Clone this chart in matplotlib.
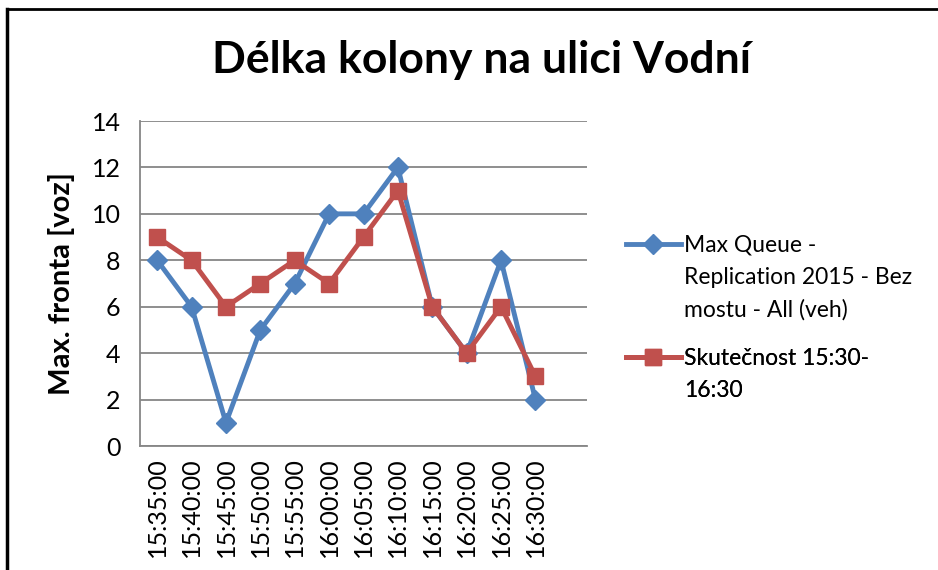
import numpy as np
import matplotlib.pyplot as plt
from matplotlib.lines import Line2D

# data
times = ['15:35:00', '15:40:00', '15:45:00', '15:50:00', '15:55:00', '16:00:00',
         '16:05:00', '16:10:00', '16:15:00', '16:20:00', '16:25:00', '16:30:00']
max_queue = [8, 6, 1, 5, 7, 10, 10, 12, 6, 4, 8, 2]
skutecnost = [9, 8, 6, 7, 8, 7, 9, 11, 6, 4, 6, 3]
label_queue = ['Max Queue -', 'Replication 2015 - Bez', 'mostu - All (veh)']
label_real = ['Skutečnost 15:30-', '16:30']

plt.rcParams['font.family'] = ['Lato', 'DejaVu Sans']

fig = plt.figure(figsize=(9.38, 5.70), dpi=100)
ax = fig.add_axes([140/938, 124/570, 447/938, 325/570])

x = np.arange(len(times))
h_queue, = ax.plot(x, max_queue, color='#4F81BD', lw=3.5, marker='D', ms=10)
h_real, = ax.plot(x, skutecnost, color='#C0504D', lw=3.5, marker='s', ms=11)

ax.set_xlim(-0.5, len(times) + 0.5)
ax.set_ylim(0, 14)
ax.set_yticks(range(0, 15, 2))
ax.set_xticks(x)
ax.set_xticklabels(times, rotation=90, fontsize=18)
ax.tick_params(axis='y', labelsize=18, length=0, pad=14)
ax.tick_params(axis='x', length=0, pad=8)
ax.grid(axis='y', color='#868686', lw=1.3)
ax.set_axisbelow(True)
for side in ['top', 'right']:
    ax.spines[side].set_visible(False)
for side in ['left', 'bottom']:
    ax.spines[side].set_color('#868686')
    ax.spines[side].set_linewidth(1.3)

ax.set_ylabel('Max. fronta [voz]', fontsize=21, fontweight='bold', labelpad=12)
fig.text(481/938, 1 - 60/570, 'Délka kolony na ulici Vodní', ha='center', va='center',
         fontsize=32, fontweight='bold')

# legend: handle sits next to the first line of each wrapped label (Excel style)
blank = Line2D([], [], alpha=0)


def add_legend(handle, lines, ytop):
    handles = [handle] + [blank] * (len(lines) - 1)
    leg = ax.legend(handles, lines, loc='upper left', bbox_to_anchor=(1.04, ytop),
                    frameon=False, fontsize=16.5, handlelength=2.4,
                    handletextpad=0.15, labelspacing=0.48)
    ax.add_artist(leg)
    return leg


add_legend(h_queue, label_queue, 0.714)
add_legend(h_real, label_real, 0.365)

# chart frame (only top and left visible in the crop)
fig.add_artist(Line2D([7/938, 7/938], [0, 1 - 9/570], color='black', lw=2.5))
fig.add_artist(Line2D([7/938, 1], [1 - 9/570, 1 - 9/570], color='black', lw=2))

fig.savefig('out.png', dpi=100)
